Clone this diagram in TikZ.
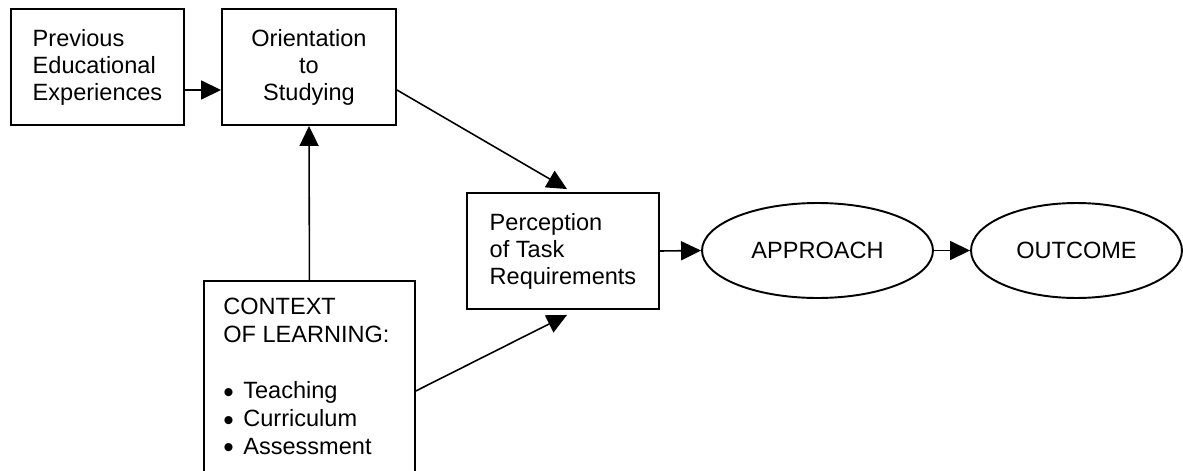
\documentclass[tikz,border=0pt]{standalone}
\usepackage{fontspec}
\setmainfont{Liberation Sans}
\usetikzlibrary{arrows.meta}
\usetikzlibrary{shapes.geometric}
\newcommand{\ctxbullet}{\makebox[0.4cm][l]{\raisebox{-0.07cm}{\fontsize{17pt}{17pt}\selectfont\textbullet}}}

\begin{document}
\begin{tikzpicture}[x=0.02cm,y=-0.02cm,
		font=\fontsize{13.4pt}{15.4pt}\selectfont,
		box/.style={draw,line width=1.1pt,minimum height=2.32cm,inner sep=0pt,align=left},
		oval/.style={ellipse,draw,line width=1.1pt,minimum height=1.9cm,inner sep=0pt},
		arr/.style={line width=0.9pt,-{Triangle[length=0.4cm,width=0.38cm]}}]
			\useasboundingbox (0,0) rectangle (1183,470);
			\clip (0,0) rectangle (1183,470);
			\node[box,minimum width=3.46cm] (prev) at (97.5,67) {Previous\\Educational\\Experiences};
			\node[box,minimum width=3.48cm,align=center] (orient) at (309,67) {Orientation\\to\\Studying};
			\node[box,minimum width=3.84cm] (percep) at (563,251) {Perception\\of Task\\Requirements};
			\node[draw,line width=1.1pt,minimum width=4.22cm,minimum height=4.4cm,inner sep=0pt,anchor=north west] (context) at (203,280) {};
			\node[anchor=north west,inner sep=0pt,align=left,font=\fontsize{13.4pt}{15.9pt}\selectfont] (ctxtext) at ([xshift=0.4cm,yshift=-0.36cm]context.north west)
				{CONTEXT\\OF LEARNING:\\[15.9pt]\ctxbullet Teaching\\\ctxbullet Curriculum\\\ctxbullet Assessment};
			\node[oval,minimum width=4.62cm] (approach) at (817.5,250.5) {APPROACH};
			\node[oval,minimum width=4.22cm] (outcome) at (1076.5,250.5) {OUTCOME};
			\draw[arr] ([yshift=-0.46cm]prev.east) -- ([yshift=-0.46cm]orient.west);
			\draw[arr] ([yshift=-0.46cm]orient.east) -- ([xshift=0.08cm,yshift=0.06cm]percep.north);
			\draw[arr] (context.north) -- (orient.south);
			\draw[arr] (context.east) -- ([xshift=0.08cm,yshift=-0.1cm]percep.south);
			\draw[arr] (percep.east) -- (approach.west);
			\draw[arr] (approach.east) -- (outcome.west);
		\end{tikzpicture}
\end{document}
